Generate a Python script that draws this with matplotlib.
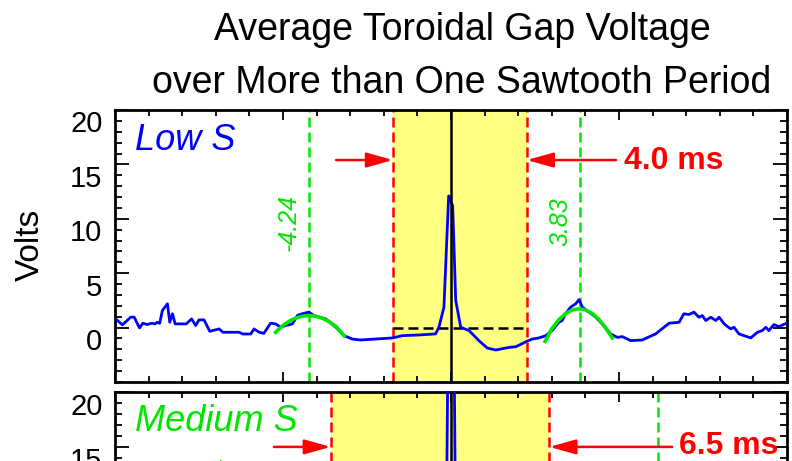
import matplotlib
matplotlib.use('Agg')
import matplotlib.pyplot as plt
import matplotlib.transforms as mtransforms

plt.rcParams['font.family'] = ['Liberation Sans', 'DejaVu Sans']

# Время (мс) и напряжение (В), верхняя панель "Low S"
t_low = [-9.98, -9.78, -9.53, -9.43, -9.27, -9.17, -9.04, -8.91, -8.81, -8.74,
         -8.67, -8.59, -8.44, -8.37, -8.29, -8.21, -7.88, -7.72, -7.60, -7.50,
         -7.35, -7.18, -6.90, -6.79, -6.31, -6.19, -5.96, -5.86, -5.71, -5.57,
         -5.37, -5.22, -5.07, -4.92, -4.72, -4.57, -4.43, -4.23, -4.08, -3.73,
         -3.43, -3.18, -2.94, -2.69, -2.24, -1.73, -1.45, -0.95, -0.46, -0.36,
         -0.21, -0.07, 0.05, 0.14, 0.29, 0.54, 0.83, 1.08, 1.33,
         1.73, 1.93, 2.25, 2.42, 2.62, 2.82, 3.01, 3.21, 3.31, 3.41,
         3.56, 3.71, 3.81, 3.91, 4.11, 4.31, 4.50, 4.75, 4.95, 5.10,
         5.35, 5.69, 6.09, 6.49, 6.79, 6.93, 7.08, 7.23, 7.38, 7.48,
         7.58, 7.73, 7.88, 7.98, 8.13, 8.32, 8.42, 8.57, 8.92, 9.12,
         9.26, 9.37, 9.46, 9.61, 9.76, 9.94]
v_low = [0.80, 0.25, 0.96, 0.96, -0.03, 0.40, 0.28, 0.40, 0.34, 0.49,
         0.40, 1.57, 2.19, 0.49, 1.27, 0.34, 0.34, 0.80, 0.19, 0.71,
         0.71, -0.34, -0.12, -0.43, -0.43, -0.59, -0.59, -0.12, -0.43, -0.53,
         0.40, 0.34, 0.03, 0.19, 0.34, 1.11, 1.27, 1.42, 1.11, 0.80,
         0.03, -0.74, -1.05, -1.14, -1.05, -0.95, -0.74, -0.68, -0.58, 0.03,
         1.88, 12.10, 11.20, 2.50, 0.03, -0.28, -1.20, -1.88, -2.06,
         -1.82, -1.76, -1.27, -1.05, -0.95, -0.74, -0.28, 0.49, 0.65, 1.27,
         1.88, 2.19, 2.56, 1.88, 1.42, 0.95, 0.34, -0.58, -0.90, -0.83,
         -1.20, -1.14, -0.58, 0.40, 0.49, 1.27, 1.20, 1.42, 0.95, 1.11,
         0.65, 0.95, 0.65, 0.95, 0.34, -0.12, 0.03, -0.58, -0.95, -0.43,
         -0.28, 0.03, -0.28, 0.28, 0.09, 0.34]

# Подгонка пиков (зелёные кривые)
fit_left_t = [-5.22, -5.02, -4.82, -4.62, -4.42, -4.23, -4.03, -3.83, -3.63, -3.43, -3.18]
fit_left_v = [-0.43, 0.15, 0.58, 0.88, 1.05, 1.11, 1.05, 0.86, 0.55, 0.12, -0.75]
fit_right_t = [2.80, 3.00, 3.20, 3.40, 3.60, 3.81, 4.00, 4.20, 4.40, 4.60, 4.80]
fit_right_v = [-1.27, -0.11, 0.69, 1.26, 1.61, 1.73, 1.63, 1.30, 0.76, -0.02, -0.95]

peaks_low = [-4.24, 3.83]
window_low = [-1.73, 2.26]
mean_low = 0.0

# Нижняя панель "Medium S" (видна только верхняя часть)
t_med = [-10.0, -8.0, -6.0, -4.0, -2.0, -0.5, -0.15, -0.08, 0.08, 0.15, 0.5, 2.0, 4.0, 6.0, 8.0, 10.0]
v_med = [0.5, 0.6, 0.3, 0.8, -0.5, 0.2, 3.0, 28.0, 28.0, 3.0, -1.0, -1.5, 0.5, 1.0, 0.3, 0.4]
peaks_med = [6.16]
window_med = [-3.58, 2.93]

yticks = [0, 5, 10, 15, 20]

BLUE = '#0000ff'
GREEN = '#00e600'
RED = '#ff0000'
YELLOW = '#ffff80'

fig = plt.figure(figsize=(7.92, 4.61), dpi=100)
ax1 = fig.add_axes([0.1452, 0.1714, 0.8485, 0.590])
ax2 = fig.add_axes([0.1452, -0.4414, 0.8485, 0.590])

label_shift = mtransforms.ScaledTranslation(0, -0.115, fig.dpi_scale_trans)


def setup_axes(ax):
    ax.set_xlim(-10, 10)
    ax.set_ylim(-5, 20)
    ax.set_xticks(range(-10, 11, 5))
    ax.set_xticks(range(-10, 11), minor=True)
    ax.set_yticks(yticks)
    ax.set_yticks(range(-5, 21), minor=True)
    ax.set_yticklabels([str(v) for v in yticks], fontsize=21)
    ax.tick_params(which='both', direction='in', top=True, right=True,
                   labelbottom=False, width=1.3, color='black')
    ax.tick_params(axis='y', which='major', length=10, pad=9)
    ax.tick_params(axis='y', which='minor', length=5)
    ax.tick_params(axis='x', which='major', length=7)
    ax.tick_params(axis='x', which='minor', length=4)
    for s in ax.spines.values():
        s.set_linewidth(2)
    for lab in ax.get_yticklabels():
        lab.set_transform(lab.get_transform() + label_shift)


def arrows(ax, window, y, left_tail, right_tail):
    props = dict(arrowstyle='-|>,head_length=1.6,head_width=0.45', color=RED,
                 lw=1.8, shrinkA=0, shrinkB=0)
    ax.annotate('', xy=(window[0], y), xytext=(left_tail, y), arrowprops=props)
    ax.annotate('', xy=(window[1], y), xytext=(right_tail, y), arrowprops=props)


# верхняя панель
setup_axes(ax1)
ax1.axvspan(window_low[0], window_low[1], color=YELLOW, lw=0, zorder=0)
for x in window_low:
    ax1.axvline(x, color=RED, lw=1.8, ls=(0, (4, 2)), zorder=2)
for x in peaks_low:
    ax1.axvline(x, color=GREEN, lw=1.8, ls=(0, (4, 2)), zorder=2)
ax1.axvline(0, color='black', lw=1.8, zorder=4)
ax1.plot(window_low, [mean_low, mean_low], color='black', lw=1.8, ls=(0, (4, 2)), zorder=3)
ax1.plot(t_low, v_low, color=BLUE, lw=2.0, zorder=3)
ax1.plot(fit_left_t, fit_left_v, color=GREEN, lw=2.6, zorder=4)
ax1.plot(fit_right_t, fit_right_v, color=GREEN, lw=2.6, zorder=4)
ax1.text(-4.46, 9.7, '-4.24', color=GREEN, fontsize=18, style='italic',
         rotation=90, ha='right', va='center')
ax1.text(3.61, 9.7, '3.83', color=GREEN, fontsize=18, style='italic',
         rotation=90, ha='right', va='center')
ax1.text(-9.4, 16.3, 'Low S', color=BLUE, fontsize=26, style='italic', va='baseline')
arrows(ax1, window_low, 15.4, -3.42, 4.91)
ax1.text(5.15, 14.6, '4.0 ms', color=RED, fontsize=23, fontweight='bold', va='baseline')

# нижняя панель
setup_axes(ax2)
ax2.axvspan(window_med[0], window_med[1], color=YELLOW, lw=0, zorder=0)
for x in window_med:
    ax2.axvline(x, color=RED, lw=1.8, ls=(0, (4, 2)), zorder=2)
for x in peaks_med:
    ax2.axvline(x, color=GREEN, lw=1.8, ls=(0, (4, 2)), zorder=2)
ax2.axvline(0, color='black', lw=1.8, zorder=4)
ax2.plot(t_med, v_med, color=BLUE, lw=2.0, zorder=3)
ax2.text(-6.2, 14.1, '-6.55', color=GREEN, fontsize=18, style='italic',
         rotation=90, ha='right', va='top')
ax2.text(-9.4, 16.5, 'Medium S', color=GREEN, fontsize=26, style='italic', va='baseline')
arrows(ax2, window_med, 15.0, -5.27, 6.58)
ax2.text(6.79, 14.37, '6.5 ms', color=RED, fontsize=23, fontweight='bold', va='baseline')

fig.text(30 / 792, 1 - 245 / 461, 'Volts', fontsize=24, rotation=90, ha='center', va='center')
fig.text(462 / 792, 1 - 40 / 461, 'Average Toroidal Gap Voltage', fontsize=27,
         ha='center', va='baseline')
fig.text(462 / 792, 1 - 93 / 461, 'over More than One Sawtooth Period', fontsize=27,
         ha='center', va='baseline')

fig.savefig('out.png', dpi=100)
